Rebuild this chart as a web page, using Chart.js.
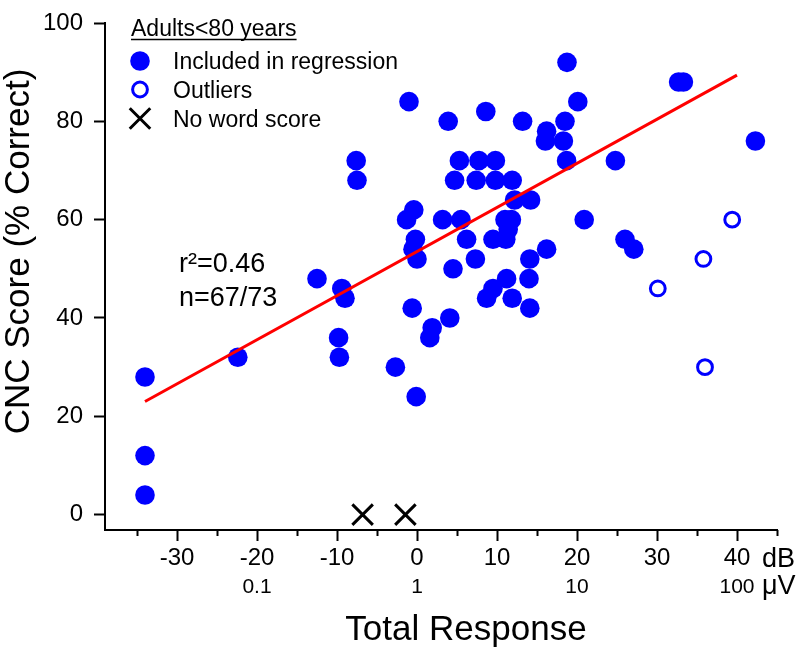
<!DOCTYPE html>
<html>
<head>
<meta charset="utf-8">
<title>CNC score vs total response</title>
<script src="https://cdn.jsdelivr.net/npm/chart.js@4.4.1/dist/chart.umd.min.js"></script>
<style>
  html, body { margin: 0; padding: 0; background: #fff; }
</style>
</head>
<body>
<canvas id="Chart" width="800" height="650"></canvas>
<script>
// total response (dB re 1 uV) vs CNC word score (%)
const inclX = [-34, -34, -34, -22.4, -12.5, -9.4, -9.0, -9.8, -9.7, -7.6, -7.5, -2.7, -1.0, -1.3, -0.4, -0.2, -0.5, 0.0,
  -0.6, -0.1, 1.9, 1.6, 3.2, 3.9, 4.1, 4.5, 4.7, 5.3, 5.5, 6.2, 7.3, 7.4, 7.75, 8.6, 8.7, 9.5, 9.5, 9.8, 9.8,
  11.0, 11.8, 11.4, 11.1, 11.2, 11.9, 11.9, 12.2, 14.2, 13.2, 14.1, 14.0, 14.1, 16.2, 16.05, 16.2, 18.3, 18.5,
  18.75, 18.7, 20.1, 20.9, 24.8, 26.0, 27.1, 32.7, 33.3, 42.3];
const inclY = [28, 12, 4, 32, 48, 46, 44, 36, 32, 72, 68, 30, 84, 60, 62, 56, 54, 52,
  42, 24, 38, 36, 60, 80, 40, 50, 68, 72, 60, 56, 52, 68, 72, 82, 44, 46, 56, 72, 68,
  60, 60, 58, 56, 48, 44, 68, 64, 64, 80, 52, 48, 42, 78, 76, 54, 76, 80,
  92, 72, 84, 60, 72, 56, 54, 88, 88, 76];
const outX = [30.1, 35.8, 36.0, 39.4];
const outY = [46, 52, 30, 60];
const noScoreX = [-6.8, -1.45];
const noScoreY = [0, 0];
const fitX = [-34, 40];
const fitY = [23, 89.4];

const xTicks = [-35, -30, -25, -20, -15, -10, -5, 0, 5, 10, 15, 20, 25, 30, 35, 40, 45];
const yTicks = [0, 20, 40, 60, 80, 100];
const uvAt = [-20, 0, 20, 40];
const uvLabels = ['0.1', '1', '10', '100'];

const legendTitle = 'Adults<80 years';
const statLines = ['r\u00b2=0.46', 'n=67/73'];

const FONT = '"Liberation Sans", Arial, sans-serif';
Chart.defaults.font.family = FONT;
Chart.defaults.color = '#000';

const pts = (xs, ys) => xs.map((x, i) => ({ x: x, y: ys[i] }));

const data = {
  datasets: [
    {
      label: 'fit',
      type: 'line',
      data: pts(fitX, fitY),
      borderColor: '#ff0000',
      borderWidth: 3,
      pointRadius: 0,
      order: 0
    },
    {
      label: 'Included in regression',
      data: pts(inclX, inclY),
      backgroundColor: '#0000ff',
      borderWidth: 0,
      pointRadius: 9.8,
      order: 1
    },
    {
      label: 'Outliers',
      data: pts(outX, outY),
      backgroundColor: '#ffffff',
      borderColor: '#0000ff',
      borderWidth: 3,
      pointRadius: 7.4,
      order: 2
    },
    {
      label: 'No word score',
      data: pts(noScoreX, noScoreY),
      pointStyle: 'crossRot',
      borderColor: '#000',
      borderWidth: 3,
      pointRadius: 14.5,
      order: 3
    }
  ]
};

// everything Chart.js can't lay out itself: minor ticks, second tick row, titles, legend, stats
const extras = {
  id: 'extras',
  afterDraw(chart) {
    const ctx = chart.ctx;
    const xs = chart.scales.x;
    const area = chart.chartArea;
    ctx.save();
    ctx.strokeStyle = '#000';
    ctx.fillStyle = '#000';
    ctx.lineWidth = 2;

    xTicks.filter(v => v % 10 !== 0).forEach(v => {
      const px = Math.round(xs.getPixelForValue(v)) + 0.5;
      ctx.beginPath();
      ctx.moveTo(px, area.bottom);
      ctx.lineTo(px, area.bottom + 6);
      ctx.stroke();
    });

    ctx.textBaseline = 'alphabetic';
    ctx.textAlign = 'center';
    ctx.font = '21px ' + FONT;
    uvAt.forEach((v, i) => ctx.fillText(uvLabels[i], xs.getPixelForValue(v), 593));

    ctx.textAlign = 'left';
    ctx.font = '27px ' + FONT;
    ctx.fillText('dB', area.right - 15, 567);
    ctx.fillText('\u03bcV', area.right - 15, 594);

    // axis titles
    ctx.font = '35px ' + FONT;
    ctx.textAlign = 'center';
    ctx.fillText('Total Response', 466, 640);
    ctx.save();
    ctx.translate(28.5, 251.5);
    ctx.rotate(-Math.PI / 2);
    ctx.fillText('CNC Score (% Correct)', 0, 0);
    ctx.restore();

    // legend
    ctx.textAlign = 'left';
    ctx.font = '23px ' + FONT;
    ctx.fillText(legendTitle, 131, 36);
    const tw = ctx.measureText(legendTitle).width;
    ctx.lineWidth = 1.5;
    ctx.beginPath();
    ctx.moveTo(131, 39.5);
    ctx.lineTo(131 + tw, 39.5);
    ctx.stroke();

    const ds = chart.data.datasets;
    const rows = [ds[1], ds[2], ds[3]];
    const rowY = [61, 89.5, 118.5];
    rows.forEach((d, i) => {
      ctx.save();
      ctx.fillStyle = d.backgroundColor || 'rgba(0,0,0,0)';
      ctx.strokeStyle = d.borderColor || 'rgba(0,0,0,0)';
      ctx.lineWidth = d.borderWidth;
      Chart.helpers.drawPoint(ctx, {
        pointStyle: d.pointStyle || 'circle',
        radius: d.pointRadius,
        borderWidth: d.borderWidth,
        rotation: 0
      }, 140, rowY[i]);
      ctx.restore();
    });
    ctx.fillStyle = '#000';
    rows.forEach((d, i) => ctx.fillText(d.label, 173, rowY[i] + 8));

    // fit stats
    ctx.font = '27px ' + FONT;
    ctx.fillText(statLines[0], 179, 272);
    ctx.fillText(statLines[1], 179, 306);
    ctx.restore();
  }
};

const config = {
  type: 'scatter',
  data,
  options: {
    responsive: false,
    animation: false,
    layout: { padding: { top: 13, right: 23, bottom: 0, left: 0 } },
    scales: {
      x: {
        type: 'linear',
        min: -39,
        max: 45,
        afterBuildTicks: s => { s.ticks = xTicks.map(v => ({ value: v })); },
        afterFit: s => { s.height = 120; },
        border: { display: true, color: '#000', width: 2 },
        grid: {
          drawOnChartArea: false,
          tickLength: 11,
          tickWidth: 2,
          tickColor: c => (c.tick && c.tick.value % 10 === 0) ? '#000' : 'rgba(0,0,0,0)'
        },
        ticks: {
          autoSkip: false,
          maxRotation: 0,
          padding: 5,
          font: { size: 24, lineHeight: 1 },
          callback: v => (v % 10 === 0 ? String(v) : '')
        }
      },
      y: {
        type: 'linear',
        min: -3.13,
        max: 100,
        afterBuildTicks: s => { s.ticks = yTicks.map(v => ({ value: v })); },
        afterFit: s => { s.width = 105; },
        border: { display: true, color: '#000', width: 2 },
        grid: {
          drawOnChartArea: false,
          tickLength: 11,
          tickWidth: 2,
          tickColor: '#000'
        },
        ticks: {
          padding: 11,
          font: { size: 24, lineHeight: 1 }
        }
      }
    },
    plugins: {
      legend: { display: false },
      tooltip: { enabled: false }
    }
  },
  plugins: [extras]
};

const myChart = new Chart(document.getElementById('Chart'), config);
</script>
</body>
</html>
